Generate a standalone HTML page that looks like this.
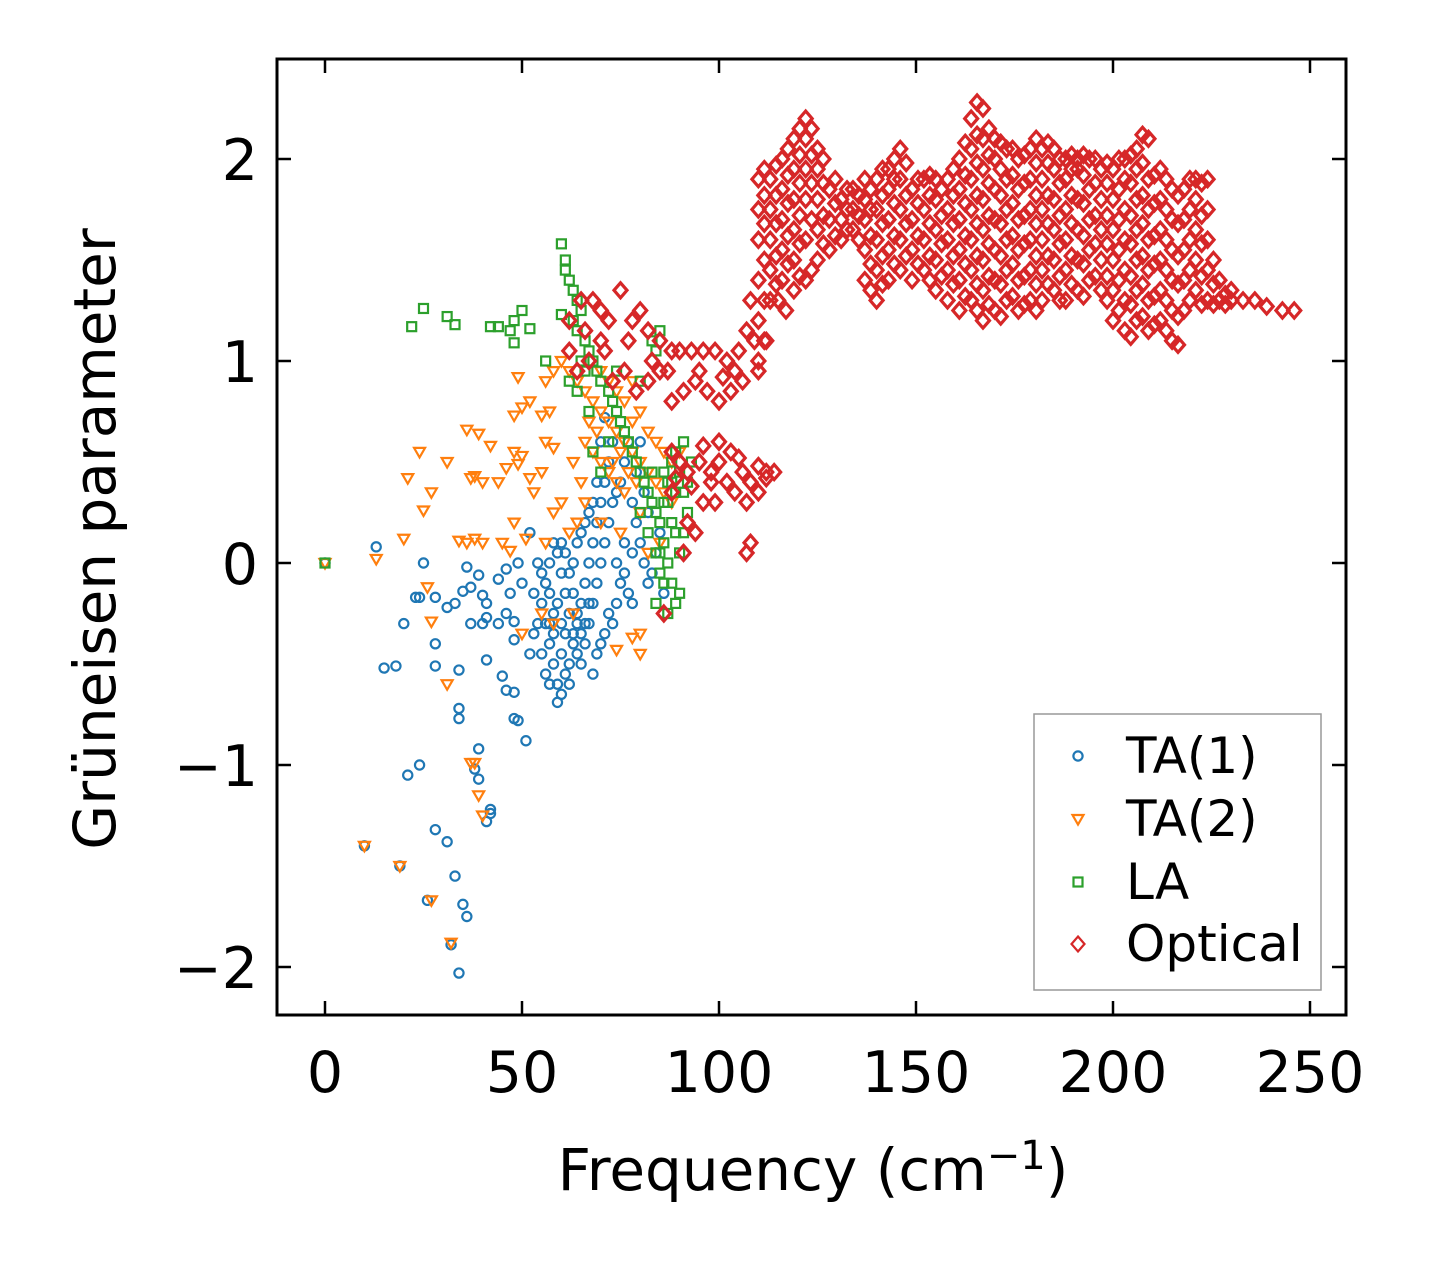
<!DOCTYPE html>
<html><head><meta charset="utf-8"><style>
body{margin:0;background:#fff;}
svg text{font-family:"DejaVu Sans","Liberation Sans",sans-serif;fill:#000;}
</style></head><body>
<svg id="chart" width="1429" height="1264" viewBox="0 0 1429 1264" xmlns="http://www.w3.org/2000/svg">
<rect width="1429" height="1264" fill="#fff"/>
<g id="marks"></g>
<g id="axes"></g>
</svg>
<script>
const xTicks=[0,50,100,150,200,250];
const yTicks=[-2,-1,0,1,2];
const yTickLabels=["\u22122","\u22121","0","1","2"];
const ta1Freq=[0,10,19,26,32,34,35,36,33,31,28,21,24,39,38,39,41,42,42,34,34,15,18,28,34,28,20,13,25,23,24,28,31,33,35,37,36,39,40,41,41,37,40,44,46,44,46,47,48,48,41,45,46,48,48,49,51,52,50,52,49,53,55,56,57,58,59,60,59,57,56,55,58,60,61,62,63,64,65,66,67,68,69,70,71,72,73,71,70,56,57,58,59,60,61,62,63,64,65,66,67,68,69,70,71,72,73,74,75,76,77,78,79,80,81,82,83,84,76,75,74,73,72,71,70,69,68,67,66,65,64,63,62,61,60,59,58,57,61,62,60,63,64,65,66,67,68,69,74,76,77,78,79,80,81,82,57,55,54,53,54,78,85,86];
const ta1Gamma=[0,-1.4,-1.5,-1.67,-1.89,-2.03,-1.69,-1.75,-1.55,-1.38,-1.32,-1.05,-1.0,-0.92,-1.02,-1.07,-1.28,-1.24,-1.22,-0.77,-0.72,-0.52,-0.51,-0.51,-0.53,-0.4,-0.3,0.08,0,-0.17,-0.17,-0.17,-0.22,-0.2,-0.14,-0.12,-0.02,-0.06,-0.16,-0.2,-0.27,-0.3,-0.3,-0.3,-0.25,-0.08,-0.03,-0.15,-0.29,-0.38,-0.48,-0.56,-0.63,-0.64,-0.77,-0.78,-0.88,-0.45,-0.1,0.15,0,-0.35,-0.2,-0.3,-0.4,-0.5,-0.6,-0.65,-0.69,-0.6,-0.55,-0.45,-0.35,-0.45,-0.55,-0.5,-0.4,-0.3,-0.2,-0.1,0,0.1,0.2,0.3,0.4,0.5,0.6,0.72,0.6,-0.1,0,0.1,0.05,-0.05,-0.15,-0.25,-0.35,-0.45,-0.5,-0.4,-0.3,-0.2,-0.1,0,0.1,0.2,0.3,0.35,0.4,0.5,0.6,0.3,0.2,0.1,0,-0.1,-0.05,0.05,0.1,-0.1,-0.2,-0.3,-0.25,-0.35,-0.4,-0.45,-0.55,-0.2,-0.3,-0.35,-0.25,-0.15,-0.05,0.05,0.1,-0.2,-0.25,-0.3,-0.35,-0.6,-0.3,0,0.1,0.15,0.2,0.25,0.3,0.4,0,-0.05,-0.15,-0.2,0.45,0.6,0.35,0.25,-0.15,-0.05,-0.3,-0.15,0,0.05,0.15,-0.15];
const ta2Freq=[0,13,20,21,24,25,27,31,34,36,39,37,38,40,42,44,46,48,49,50,52,53,55,56,58,48,50,52,55,57,49,36,38,40,45,48,51,47,26,27,31,37,38,39,40,27,19,10,32,50,55,58,63,80,78,80,74,56,58,60,62,64,66,68,70,72,74,76,78,80,82,84,86,88,66,68,70,72,74,76,78,80,82,84,86,72,74,76,78,70,66,64,62,60,58,56,70,75,80,82,85,88,90,79,77,75,73,69,67,65,63];
const ta2Gamma=[0,0.02,0.12,0.42,0.55,0.26,0.35,0.5,0.11,0.66,0.64,0.42,0.43,0.4,0.58,0.4,0.47,0.55,0.49,0.53,0.42,0.35,0.45,0.6,0.57,0.73,0.77,0.8,0.73,0.75,0.92,0.1,0.12,0.1,0.1,0.2,0.12,0.06,-0.12,-0.29,-0.6,-0.99,-0.99,-1.15,-1.25,-1.67,-1.5,-1.4,-1.88,-0.35,-0.25,-0.3,-0.25,-0.45,-0.37,-0.35,-0.43,0.9,0.95,1.0,0.95,0.9,0.85,0.8,0.75,0.7,0.65,0.6,0.55,0.5,0.45,0.4,0.35,0.3,0.6,0.55,0.5,0.45,0.4,0.35,0.7,0.75,0.65,0.6,0.55,0.9,0.85,0.8,0.9,0.95,0.3,0.2,0.15,0.3,0.25,0.1,0.2,0.15,0.25,0.05,0.1,0.5,0.55,0.4,0.45,0.55,0.5,0.65,0.7,0.4,0.5];
const laFreq=[0,22,25,31,33,42,44,47,48,48,50,52,56,60,61,61,62,63,64,65,63,60,64,66,67,68,69,70,65,66,62,64,72,73,74,75,76,77,78,79,80,81,82,83,84,85,86,87,88,89,87,90,84,85,86,87,88,89,90,91,92,93,91,89,90,86,85,88,92,83,82,80,84,87,89,91,68,70,72,84,83,85,67,80,74,86,88];
const laGamma=[0,1.17,1.26,1.22,1.18,1.17,1.17,1.15,1.09,1.2,1.25,1.16,1.0,1.58,1.5,1.45,1.4,1.35,1.3,1.25,1.2,1.23,1.15,1.1,1.05,1.0,0.95,0.9,1.0,0.95,0.9,0.85,0.85,0.8,0.75,0.7,0.65,0.6,0.55,0.5,0.45,0.4,0.35,0.3,0.25,0.2,0.1,0,-0.1,-0.2,-0.25,-0.15,-0.2,0.05,0.3,0.4,0.5,0.55,0.45,0.35,0.25,0.5,0.6,0.15,0.05,-0.1,-0.05,0.2,0.4,0.45,0.15,0.25,0.05,0.3,0.35,0.15,0.55,0.45,0.6,1.05,1.1,1.15,0.75,0.9,0.95,0.45,0.4];
const optColFreq=[110,113,116,119,122,125,128,131,134,137,140,143,146,149,152,155,158,161,164,167,170,173,176,179,182,185,188,191,194,197,200,203,206,209,212,215,218,221,224,227,230,233,236,239,243,246];
const optColGamma=[[1.0,1.2,1.4,1.6,1.75,1.9],[1.3,1.45,1.6,1.75,1.9],[1.4,1.55,1.7,1.85,2.0],[1.35,1.5,1.65,1.8,1.95,2.1],[1.4,1.6,1.8,1.95,2.1,2.2],[1.5,1.65,1.8,1.95,2.05],[1.55,1.7,1.85],[1.6,1.7,1.8],[1.65,1.75,1.85],[1.4,1.55,1.7,1.8,1.9],[1.3,1.45,1.6,1.75,1.9],[1.4,1.55,1.7,1.85,1.95],[1.45,1.6,1.75,1.9,2.05],[1.4,1.55,1.7,1.85],[1.45,1.6,1.75,1.9],[1.35,1.5,1.65,1.8,1.9],[1.3,1.45,1.6,1.75,1.9],[1.25,1.4,1.55,1.7,1.85,2.0],[1.3,1.45,1.6,1.75,1.9,2.05,2.2],[1.2,1.35,1.5,1.65,1.8,1.95,2.1,2.25],[1.25,1.4,1.55,1.7,1.85,2.0,2.1],[1.3,1.45,1.6,1.75,1.9,2.05],[1.25,1.4,1.55,1.7,1.85,2.0],[1.3,1.45,1.6,1.75,1.9,2.05],[1.3,1.45,1.6,1.75,1.9,2.05],[1.35,1.5,1.65,1.8,1.95,2.05],[1.3,1.45,1.6,1.75,1.9,2.0],[1.35,1.5,1.65,1.8,1.95,2.0],[1.4,1.55,1.7,1.85,2.0],[1.35,1.5,1.65,1.8,1.95],[1.2,1.35,1.5,1.65,1.8,1.95],[1.15,1.3,1.45,1.6,1.75,1.9,2.0],[1.2,1.35,1.5,1.65,1.8,1.95,2.05],[1.15,1.3,1.45,1.6,1.75,1.9,2.1],[1.2,1.35,1.5,1.65,1.8,1.95],[1.1,1.25,1.4,1.55,1.7,1.85],[1.25,1.4,1.55,1.7,1.85],[1.35,1.5,1.65,1.8,1.9],[1.3,1.45,1.6,1.75,1.9],[1.3,1.4],[1.3,1.35],[1.3],[1.3],[1.27],[1.25],[1.25]];
const optColFreq2=[111.5,114.5,117.5,120.5,123.5,126.5,129.5,132.5,135.5,138.5,141.5,144.5,147.5,150.5,153.5,156.5,159.5,162.5,165.5,168.5,171.5,174.5,177.5,180.5,183.5,186.5,189.5,192.5,195.5,198.5,201.5,204.5,207.5,210.5,213.5,216.5,219.5,222.5,225.5,228.5];
const optColGamma2=[[1.1,1.3,1.5,1.68,1.82,1.95],[1.38,1.52,1.68,1.82,1.97],[1.48,1.62,1.78,1.92,2.05],[1.42,1.58,1.72,1.88,2.02,2.15],[1.45,1.7,1.88,2.02,2.15],[1.58,1.72,1.88,2.0],[1.62,1.78,1.9],[1.65,1.75,1.85],[1.6,1.72,1.82],[1.35,1.48,1.62,1.75,1.85],[1.38,1.52,1.68,1.82,1.95],[1.48,1.62,1.78,1.9,2.0],[1.52,1.68,1.82,1.98],[1.48,1.62,1.78,1.9],[1.4,1.52,1.68,1.82,1.92],[1.42,1.58,1.72,1.85],[1.38,1.52,1.68,1.82,1.95],[1.32,1.48,1.62,1.78,1.92,2.08],[1.25,1.38,1.52,1.68,1.82,1.98,2.12,2.28],[1.28,1.42,1.58,1.72,1.88,2.02,2.15],[1.22,1.38,1.52,1.68,1.82,1.95,2.08],[1.32,1.48,1.62,1.78,1.92,2.05],[1.28,1.42,1.58,1.72,1.88,2.02],[1.25,1.38,1.52,1.68,1.82,1.98,2.1],[1.38,1.52,1.68,1.82,1.98,2.08],[1.3,1.42,1.58,1.72,1.88,2.0],[1.38,1.52,1.68,1.82,1.95,2.02],[1.32,1.48,1.62,1.78,1.92,2.02],[1.42,1.58,1.72,1.88,2.0],[1.3,1.42,1.58,1.72,1.88,1.98],[1.25,1.4,1.55,1.7,1.85,2.0],[1.12,1.28,1.42,1.58,1.72,1.88,2.02],[1.22,1.38,1.52,1.68,1.82,1.98,2.12],[1.18,1.32,1.48,1.62,1.78,1.92],[1.15,1.3,1.45,1.6,1.75,1.9],[1.08,1.22,1.38,1.52,1.68,1.82],[1.3,1.45,1.6,1.75,1.9],[1.28,1.42,1.58,1.72,1.88],[1.28,1.38,1.5],[1.28,1.33]];
const optFreq=[62,65,68,70,72,75,78,80,82,85,88,90,93,96,99,102,105,107,108,106,103,100,97,94,91,88,85,82,79,76,73,70,67,64,62,88,90,92,95,98,100,102,104,106,108,110,112,114,107,108,107,92,94,96,99,91,86,88,103,100,112,110,110,112,115,117,66,71,77,83,87,95,101,104,109,98,93,89,96,105];
const optGamma=[1.2,1.3,1.3,1.25,1.2,1.35,1.2,1.25,1.15,1.1,1.05,1.05,1.05,1.05,1.05,1.0,1.05,1.15,1.3,0.9,0.85,0.8,0.85,0.9,0.85,0.8,0.95,0.9,0.85,0.95,0.9,1.1,1.0,0.95,1.05,0.55,0.5,0.45,0.5,0.45,0.5,0.4,0.35,0.45,0.4,0.35,0.45,0.45,0.3,0.1,0.05,0.2,0.15,0.3,0.3,0.05,-0.25,0.35,0.55,0.6,0.42,0.48,0.95,1.1,1.3,1.25,1.15,1.05,1.1,1.0,0.95,0.95,0.92,0.95,1.1,0.4,0.38,0.42,0.58,0.52];

const NS="http://www.w3.org/2000/svg";
const L=277,R=1346,T=59,B=1015;
function xs(v){return 325+v*3.94;}
function ys(v){return 563-v*202;}
const marks=document.getElementById('marks');
const axes=document.getElementById('axes');
function mk(tag,attrs,parent){const e=document.createElementNS(NS,tag);for(const k in attrs)e.setAttribute(k,attrs[k]);parent.appendChild(e);return e;}
function marker(kind,cx,cy,color,parent){
  let e;
  if(kind==='circle'){e=mk('circle',{cx:cx,cy:cy,r:4.6,fill:'none',stroke:color,'stroke-width':2.2},parent);}
  else if(kind==='tri'){e=mk('polygon',{points:(cx-5.5)+','+(cy-4)+' '+(cx+5.5)+','+(cy-4)+' '+cx+','+(cy+5.5),fill:'none',stroke:color,'stroke-width':2.2},parent);}
  else if(kind==='square'){e=mk('rect',{x:cx-4.5,y:cy-4.5,width:9,height:9,fill:'none',stroke:color,'stroke-width':2.2},parent);}
  else {e=mk('polygon',{points:cx+','+(cy-7.5)+' '+(cx+6.5)+','+cy+' '+cx+','+(cy+7.5)+' '+(cx-6.5)+','+cy,fill:'none',stroke:color,'stroke-width':3.2},parent);}
  return e;
}
function series(fx,fy,kind,color,name){
  const g=mk('g',{},marks);
  
  
  for(let i=0;i<fx.length;i++){
    const m=marker(kind,xs(fx[i]),ys(fy[i]),color,g);
    
    
  }
  return g;
}
series(ta1Freq,ta1Gamma,'circle','#1f77b4','ta1-series');
series(ta2Freq,ta2Gamma,'tri','#ff7f0e','ta2-series');
series(laFreq,laGamma,'square','#2ca02c','la-series');
const og=series(optFreq,optGamma,'diamond','#d62728','optical-series');
function addCols(fr,gm){
  for(let c=0;c<fr.length;c++){
    for(const g of gm[c]){
      const m=marker('diamond',xs(fr[c]),ys(g),'#d62728',og);
      
      
    }
  }
}
addCols(optColFreq,optColGamma);
addCols(optColFreq2,optColGamma2);
const fr=mk('rect',{x:L,y:T,width:R-L,height:B-T,fill:'none',stroke:'#000','stroke-width':3},axes);


xTicks.forEach(v=>{
  const x=xs(v);
  mk('line',{x1:x,y1:B,x2:x,y2:B-14,stroke:'#000','stroke-width':2.5},axes);
  mk('line',{x1:x,y1:T,x2:x,y2:T+14,stroke:'#000','stroke-width':2.5},axes);
  const t=mk('text',{x:x,y:1092,'font-size':57,'text-anchor':'middle'},axes);
  t.textContent=String(v);
  
  
});
yTicks.forEach((v,i)=>{
  const y=ys(v);
  mk('line',{x1:L,y1:y,x2:L+14,y2:y,stroke:'#000','stroke-width':2.5},axes);
  mk('line',{x1:R,y1:y,x2:R-14,y2:y,stroke:'#000','stroke-width':2.5},axes);
  const t=mk('text',{x:258,y:y+21,'font-size':57,'text-anchor':'end'},axes);
  t.textContent=yTickLabels[i];
  
  
});
const xt=mk('text',{x:813,y:1190,'font-size':58,'text-anchor':'middle'},axes);
xt.innerHTML='Frequency (cm<tspan dy="-21" font-size="40">\u22121</tspan><tspan dy="21">)</tspan>';


const yt=mk('text',{x:0,y:0,'font-size':58,'text-anchor':'middle',transform:'translate(115,539) rotate(-90)'},axes);
yt.textContent='Grüneisen parameter';


const lg=mk('g',{},axes);


mk('rect',{x:1034,y:714,width:287,height:276,fill:'#fff','fill-opacity':0.8,stroke:'#999','stroke-width':1.5},lg);
const legNames=['TA(1)','TA(2)','LA','Optical'];
const legKinds=['circle','tri','square','diamond'];
const legColors=['#1f77b4','#ff7f0e','#2ca02c','#d62728'];
const legY=[756,819,882,944];
legNames.forEach((n,i)=>{
  const e=mk('g',{},lg);
  
  
  const m=marker(legKinds[i],1078,legY[i],legColors[i],e);
  if(legKinds[i]==='diamond') m.setAttribute('stroke-width','2.2');
  const t=mk('text',{x:1126,y:legY[i]+17,'font-size':50},e);
  t.textContent=n;
});
</script>
</body></html>
